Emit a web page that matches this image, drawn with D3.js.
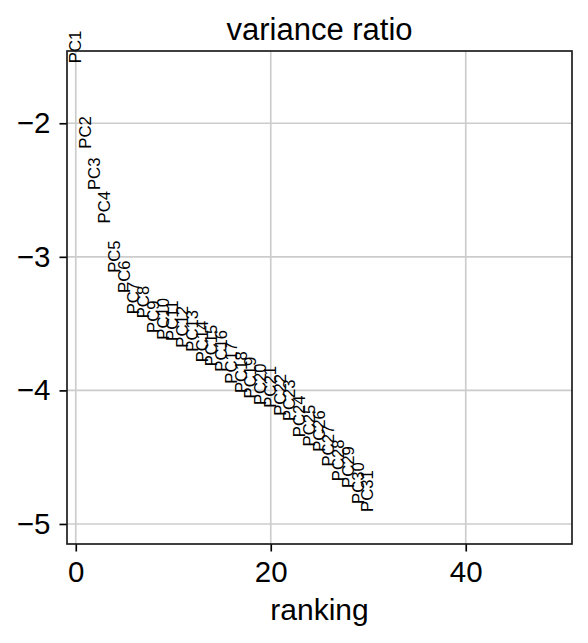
<!DOCTYPE html>
<html>
<head>
<meta charset="utf-8">
<script src="https://cdn.jsdelivr.net/npm/d3@7"></script>
<style>
  html, body { margin: 0; padding: 0; background: #fff; }
  svg { display: block; }
  text { font-family: "Liberation Sans", Arial, sans-serif; fill: #000; }
</style>
</head>
<body>
<svg id="chart" width="588" height="643"></svg>
<script>
// ---- data ----
const pcLabels = ["PC1","PC2","PC3","PC4","PC5","PC6","PC7","PC8","PC9","PC10",
  "PC11","PC12","PC13","PC14","PC15","PC16","PC17","PC18","PC19","PC20",
  "PC21","PC22","PC23","PC24","PC25","PC26","PC27","PC28","PC29","PC30","PC31"];
const logVarianceRatio = [-1.55,-2.19,-2.50,-2.75,-3.12,-3.27,-3.43,-3.46,-3.57,-3.62,
  -3.63,-3.68,-3.71,-3.79,-3.82,-3.86,-3.95,-4.02,-4.06,-4.11,
  -4.13,-4.19,-4.23,-4.35,-4.42,-4.46,-4.57,-4.68,-4.73,-4.85,-4.91];
const xTicks = [0, 20, 40];
const yTicks = [-5, -4, -3, -2];
const title = "variance ratio";
const xLabel = "ranking";

// ---- layout ----
const svg = d3.select("#chart");
const L = 67, R = 572, T = 51, B = 544;
const x = d3.scaleLinear().domain([-0.9, 50.9]).range([L, R]);
const y = d3.scaleLinear().domain([-5.15, -1.459]).range([B, T]);
const fmt = v => (v < 0 ? "\u2212" + Math.abs(v) : String(v));

// grid
const grid = svg.append("g");
grid.selectAll("line.gx").data(xTicks).join("line")
  .attr("x1", d => x(d)).attr("x2", d => x(d)).attr("y1", T).attr("y2", B)
  .attr("stroke", "#cccccc").attr("stroke-width", 1.67);
grid.selectAll("line.gy").data(yTicks).join("line")
  .attr("y1", d => y(d)).attr("y2", d => y(d)).attr("x1", L).attr("x2", R)
  .attr("stroke", "#cccccc").attr("stroke-width", 1.67);

// labels as points
svg.append("g").selectAll("text").data(pcLabels).join("text")
  .attr("transform", (d, i) => `translate(${x(i)},${y(logVarianceRatio[i])}) rotate(-90)`)
  .attr("dy", "0.3em")
  .attr("text-anchor", "start")
  .style("font-size", "16.7px")
  .text(d => d);

// axes
const xAxis = d3.axisBottom(x).tickValues(xTicks).tickSize(7.5).tickPadding(9.5).tickFormat(fmt);
const yAxis = d3.axisLeft(y).tickValues(yTicks).tickSize(7.5).tickPadding(9).tickFormat(fmt);
const gx = svg.append("g").attr("transform", `translate(0,${B})`).call(xAxis);
const gy = svg.append("g").attr("transform", `translate(${L},0)`).call(yAxis);
[gx, gy].forEach(g => {
  g.select(".domain").remove();
  g.selectAll(".tick line").attr("stroke", "#000").attr("stroke-width", 1.67);
  g.selectAll(".tick text").style("font-size", "29.5px")
    .style("font-family", '"Liberation Sans", Arial, sans-serif').attr("fill", "#000");
});

// frame
svg.append("rect").attr("x", L).attr("y", T).attr("width", R - L).attr("height", B - T)
  .attr("fill", "none").attr("stroke", "#1a1a1a").attr("stroke-width", 1.67);

// title & axis label
svg.append("text").attr("x", (L + R) / 2).attr("y", 40).attr("text-anchor", "middle")
  .style("font-size", "31px").text(title);
svg.append("text").attr("x", (L + R) / 2).attr("y", 620).attr("text-anchor", "middle")
  .style("font-size", "30px").text(xLabel);
</script>
</body>
</html>
